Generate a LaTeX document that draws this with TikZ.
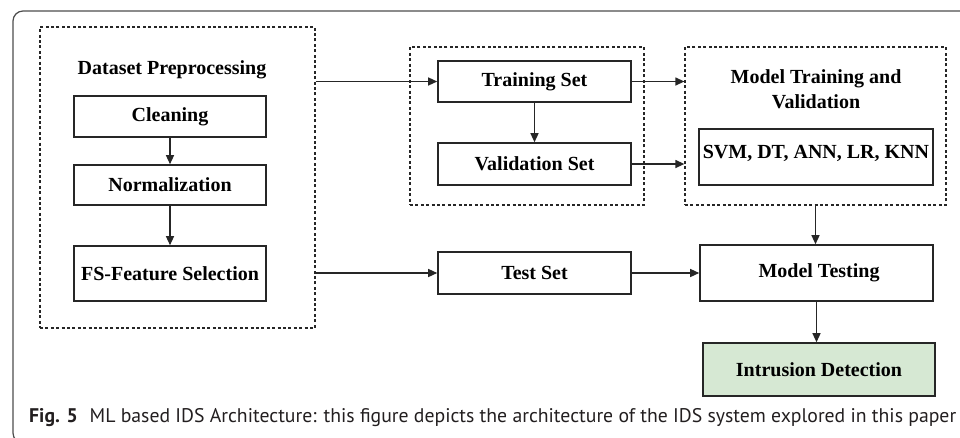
\documentclass[tikz,border=0pt]{standalone}
\usepackage{fontspec}
\usepackage{graphicx}
\setmainfont{Liberation Serif}
\newfontfamily\capfont{PT Sans}
\usetikzlibrary{arrows.meta}
\definecolor{linegray}{HTML}{262626}
\definecolor{framegray}{HTML}{4D4D4D}
\definecolor{greenfill}{HTML}{D6E8D3}
\definecolor{captext}{HTML}{231F20}
\tikzset{
  boxtext/.style={font=\fontsize{20}{25}\selectfont\bfseries, text=black},
  procbox/.style={draw=linegray, line width=1.6pt, rectangle, boxtext, inner sep=0pt, align=center},
  groupbox/.style={draw=linegray, line width=1.3pt, dash pattern=on 3pt off 2.4pt, rectangle, inner sep=0pt},
  conn/.style={draw=linegray, line width=1.3pt, -{Triangle[length=9pt,width=8pt]}},
}
\begin{document}
\begin{tikzpicture}[x=1pt,y=-1pt]
\clip (0,0) rectangle (960,437);
\fill[white] (0,0) rectangle (960,437);
% outer frame
\draw[framegray, line width=1.2pt, rounded corners=10pt] (961,11) -- (13,11) -- (13,443) -- (961,443);

% group boxes
\node[groupbox, minimum width=275pt, minimum height=301pt] (dp) at (177.5,177.5) {};
\node[groupbox, minimum width=234pt, minimum height=158pt] (tv) at (527,126) {};
\node[groupbox, minimum width=261pt, minimum height=158pt] (mt) at (815.5,126) {};

% titles
\node[boxtext, anchor=center] (dptitle) at (172,70) {Dataset Preprocessing};
\node[boxtext, align=center, anchor=center] (mttitle) at (816,89) {Model Training and\\Validation};

% process boxes
\node[procbox, minimum width=192pt, minimum height=41pt] (clean) at (170,116.5) {Cleaning};
\node[procbox, minimum width=192pt, minimum height=40pt] (norm) at (170,185) {Normalization};
\node[procbox, minimum width=192pt, minimum height=55pt] (fs) at (170,273.5) {FS-Feature Selection};
\node[procbox, minimum width=193pt, minimum height=41pt] (train) at (534.5,81.5) {Training Set};
\node[procbox, minimum width=193pt, minimum height=42pt] (valid) at (534.5,164) {Validation Set};
\node[procbox, minimum width=193pt, minimum height=42pt] (test) at (534.5,273) {Test Set};
\node[procbox, minimum width=234pt, minimum height=56pt, text height=13pt, text depth=10pt] (svm) at (816,157) {SVM, DT, ANN, LR, KNN};
\node[procbox, minimum width=233pt, minimum height=56pt] (mtest) at (816.5,273) {\hspace*{5pt}Model Testing};
\node[procbox, fill=greenfill, minimum width=232pt, minimum height=53pt] (intr) at (819,369.5) {Intrusion Detection};

% connectors
\draw[conn] (clean.south) -- (norm.north);
\draw[conn] (norm.south) -- (fs.north);
\draw[conn] (dp.east |- train.west) -- (train.west);
\draw[conn] (dp.east |- test.west) -- (test.west);
\draw[conn] (train.south) -- (valid.north);
\draw[conn] (train.east) -- (mt.west |- train.east);
\draw[conn] (valid.east) -- (mt.west |- valid.east);
\draw[conn] (test.east) -- (mtest.west);
\draw[conn] (mt.south) -- (mt.south |- mtest.north);
\draw[conn] (mtest.south) -- (mtest.south |- intr.north);

% caption
\node[anchor=base west, inner sep=0pt, text=captext] (cap) at (29,422.7)
  {\resizebox{927pt}{!}{\capfont\fontsize{18}{22}\selectfont\textbf{Fig. 5}\hspace{0.6em}ML based IDS Architecture: this figure depicts the architecture of the IDS system explored in this paper}};
\end{tikzpicture}
\end{document}
